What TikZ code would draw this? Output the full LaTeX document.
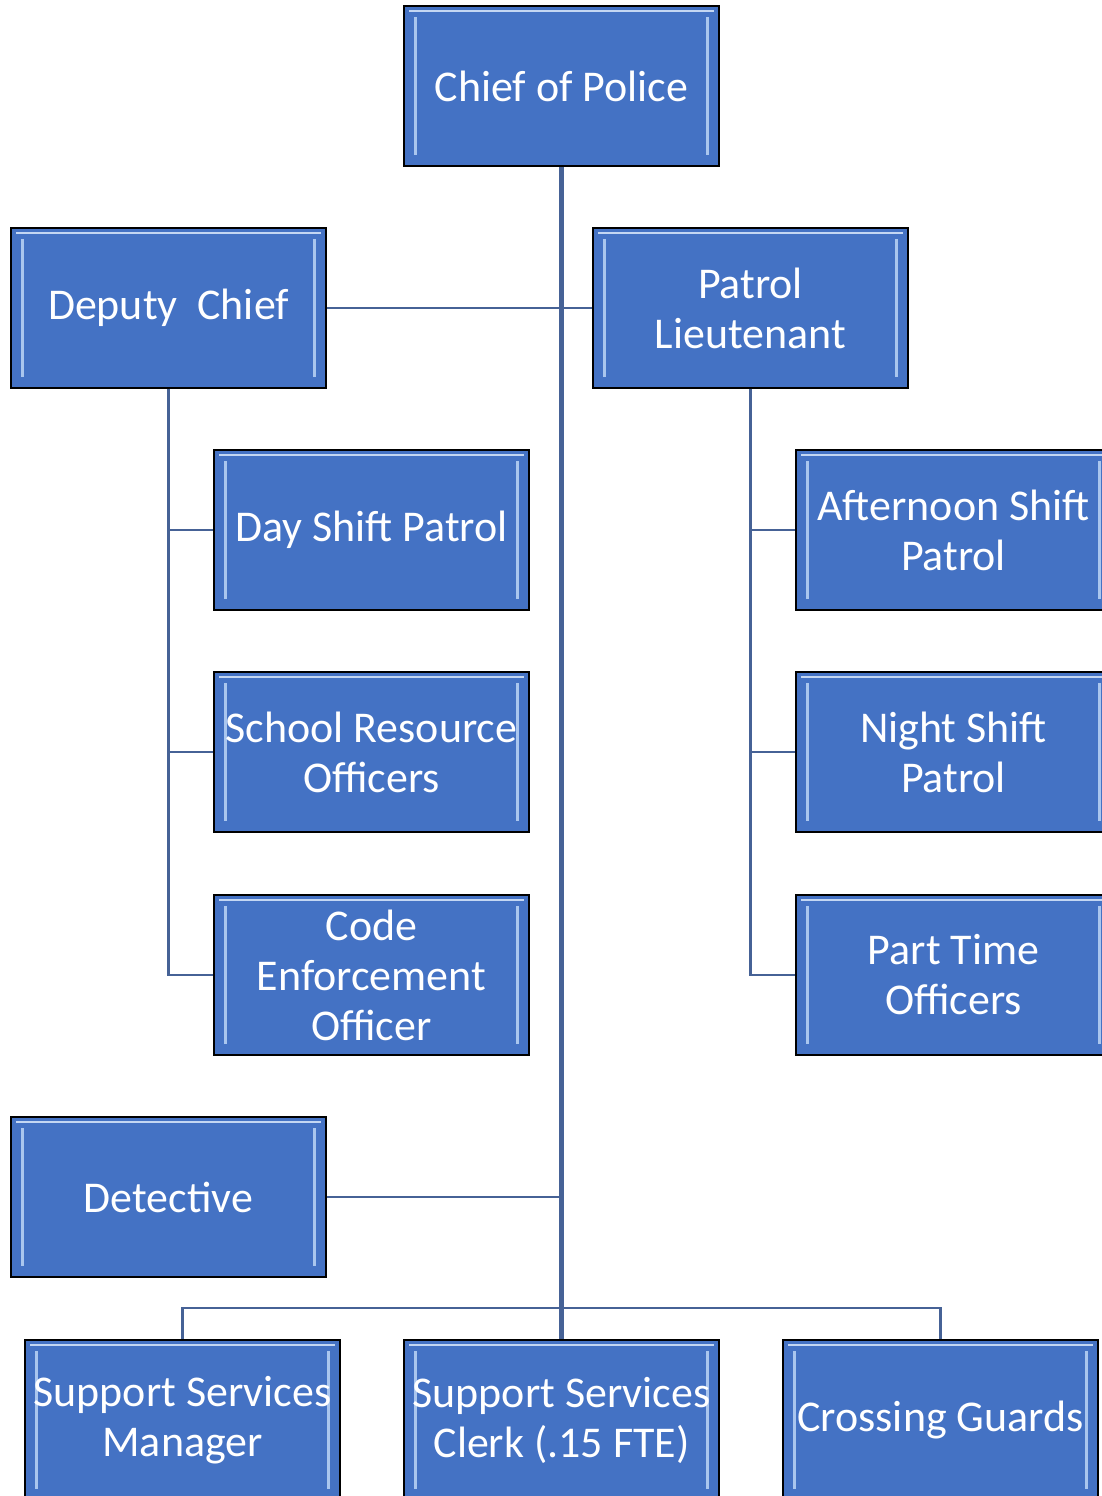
\documentclass[tikz,border=0pt]{standalone}
\usepackage{fontspec}
\setmainfont{Carlito}
\usepackage{tikz}
\definecolor{boxBlue}{RGB}{68,114,196}
\definecolor{bevelBlue}{RGB}{170,198,238}
\definecolor{lineBlue}{RGB}{70,98,150}
\tikzset{
    orgbox/.style={draw=black, line width = 1pt, fill=boxBlue, text=white,
        minimum width=6.3cm, minimum height=3.2cm, inner sep=0pt, align=center,
        font=\fontsize{25}{28.5}\selectfont,
        path picture={
            \draw[bevelBlue, line width = 2pt]
                ([xshift=0.23cm,yshift=-0.22cm]path picture bounding box.north west) --
                ([xshift=0.23cm,yshift=0.22cm]path picture bounding box.south west);
            \draw[bevelBlue, line width = 2pt]
                ([xshift=-0.23cm,yshift=-0.22cm]path picture bounding box.north east) --
                ([xshift=-0.23cm,yshift=0.22cm]path picture bounding box.south east);
            \draw[bevelBlue!70, line width = 0.8pt]
                ([xshift=0.1cm,yshift=-0.1cm]path picture bounding box.north west) --
                ([xshift=-0.1cm,yshift=-0.1cm]path picture bounding box.north east);
        }},
    link/.style={lineBlue, line width = 1.5pt},
    trunk/.style={lineBlue, line width = 2.6pt}
}

\begin{document}
\begin{tikzpicture}[x=0.02cm, y=-0.02cm]
        \useasboundingbox (0,0) rectangle (1101,1496);

        % top
        \node[orgbox] (chief) at (561.5,86) {Chief of Police};

        % second row
        \node[orgbox] (deputy) at (168.5,308) {Deputy\ \ Chief};
        \node[orgbox] (patrol) at (750.5,308) {Patrol\\Lieutenant};

        % under deputy chief
        \node[orgbox] (day) at (371.5,530) {Day Shift Patrol};
        \node[orgbox] (school) at (371.5,752) {School Resource\\Officers};
        \node[orgbox] (code) at (371.5,975) {Code\\Enforcement\\Officer};

        % under patrol lieutenant
        \node[orgbox] (afternoon) at (953.5,530) {Afternoon Shift\\Patrol};
        \node[orgbox] (night) at (953.5,752) {Night Shift\\Patrol};
        \node[orgbox] (parttime) at (953.5,975) {Part Time\\Officers};

        % detective
        \node[orgbox] (detective) at (168.5,1197) {Detective};

        % bottom row
        \node[orgbox] (manager) at (182.5,1420) {Support Services\\Manager};
        \node[orgbox] (clerk) at (561.5,1420) {Support Services\\Clerk (.15 FTE)};
        \node[orgbox] (guards) at (940.5,1420) {Crossing Guards};
        \coordinate (bus) at (561.5,1308);

        % connectors
        \draw[link] (deputy.east) -- (patrol.west);
        \draw[link] (deputy.south) |- (day.west);
        \draw[link] (deputy.south) |- (school.west);
        \draw[link] (deputy.south) |- (code.west);
        \draw[link] (patrol.south) |- (afternoon.west);
        \draw[link] (patrol.south) |- (night.west);
        \draw[link] (patrol.south) |- (parttime.west);
        \draw[link] (detective.east) -- (detective.east -| chief.south);
        \draw[link] (manager.north) |- (bus) -| (guards.north);
        \draw[trunk] (chief.south) -- (clerk.north);

    \end{tikzpicture}
\end{document}
